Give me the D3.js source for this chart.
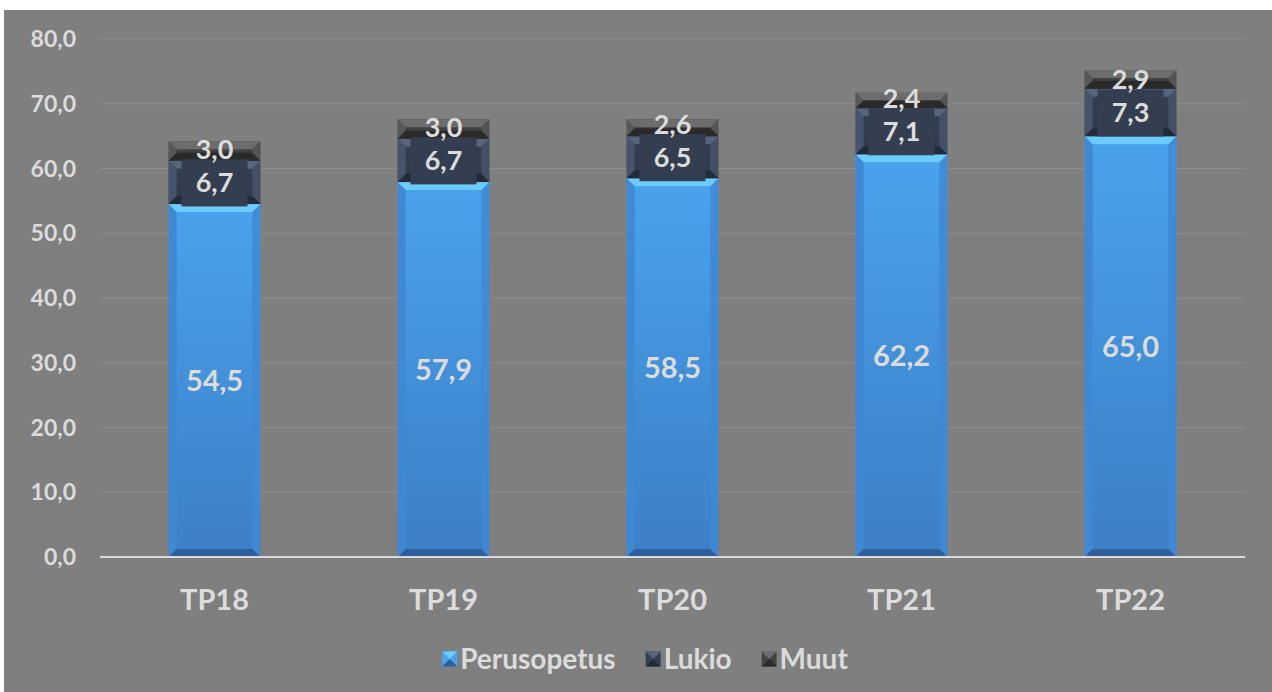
<!DOCTYPE html>
<html>
<head>
<meta charset="utf-8">
<script src="https://cdn.jsdelivr.net/npm/d3@7"></script>
<style>
  body { margin: 0; background: #fff; }
  svg { display: block; font-family: Lato, "Open Sans", sans-serif; }
</style>
</head>
<body>
<svg id="chart" width="1272" height="692"></svg>
<script>
const categories = ["TP18", "TP19", "TP20", "TP21", "TP22"];
const perusopetus = [54.5, 57.9, 58.5, 62.2, 65.0];
const lukio = [6.7, 6.7, 6.5, 7.1, 7.3];
const muut = [3.0, 3.0, 2.6, 2.4, 2.9];
const yTicks = [0, 10, 20, 30, 40, 50, 60, 70, 80];
const seriesNames = ["Perusopetus", "Lukio", "Muut"];

const width = 1272, height = 692;
const margin = { top: 39, right: 27, bottom: 135, left: 100 };
const fmt = v => v.toFixed(1).replace(".", ",");

// colours for face / top bevel / bottom bevel / side bevel
const styles = [
  { face: ["#4aa2ec", "#3c7fc6"], top: "#6ccbff", bottom: "#2c5f9c", side: "#3f88d4" },
  { face: ["#333f52", "#2f3a4c"], top: "#56657e", bottom: "#222b38", side: "#46546b" },
  { face: ["#444444", "#3c3c3c"], top: "#6c6c6c", bottom: "#2a2a2a", side: "#575757" }
];
const textColor = "#dcdcdc";

const svg = d3.select("#chart");

// outer frame: white border with grey chart area
svg.append("rect").attr("width", width).attr("height", height).attr("fill", "#fff");
svg.append("rect").attr("x", 4).attr("y", 10).attr("width", width - 4).attr("height", height - 10).attr("fill", "#7f7f7f");

const x = d3.scaleBand().domain(categories)
  .range([margin.left, width - margin.right])
  .paddingInner(0.6).paddingOuter(0.3);
const y = d3.scaleLinear().domain([0, 80]).range([height - margin.bottom, margin.top]);

const defs = svg.append("defs");
styles.forEach((s, i) => {
  const g = defs.append("linearGradient").attr("id", "face" + i)
    .attr("x1", 0).attr("y1", 0).attr("x2", 0).attr("y2", 1);
  g.append("stop").attr("offset", "0%").attr("stop-color", s.face[0]);
  g.append("stop").attr("offset", "100%").attr("stop-color", s.face[1]);
});

// gridlines
svg.append("g").selectAll("line").data(yTicks.slice(1)).enter().append("line")
  .attr("x1", margin.left).attr("x2", width - margin.right)
  .attr("y1", d => y(d)).attr("y2", d => y(d))
  .attr("stroke", "#8e8e8e").attr("stroke-width", 1);

// y tick labels
svg.append("g").selectAll("text").data(yTicks).enter().append("text")
  .attr("x", 76).attr("y", d => y(d)).attr("dy", "0.35em")
  .attr("text-anchor", "end").attr("fill", textColor)
  .attr("font-size", 23).attr("font-weight", "bold")
  .text(d => fmt(d));

// stacked data
const rows = categories.map((c, i) => ({ cat: c, v: [perusopetus[i], lukio[i], muut[i]] }));
const bars = svg.append("g");
const labels = svg.append("g");
const bev = 8;

rows.forEach(r => {
  let base = 0;
  let prevLabelY = null;
  const x0 = x(r.cat), x1 = x0 + x.bandwidth();
  r.v.forEach((val, si) => {
    const s = styles[si];
    const yb = y(base), yt = y(base + val);
    const g = bars.append("g");
    g.append("rect").attr("x", x0).attr("y", yt).attr("width", x1 - x0).attr("height", yb - yt)
      .attr("fill", "url(#face" + si + ")");
    const b = Math.min(bev, (yb - yt) / 2);
    // left / right bevels
    g.append("polygon").attr("points", [[x0, yt], [x0 + b, yt + b], [x0 + b, yb - b], [x0, yb]].join(" "))
      .attr("fill", s.side);
    g.append("polygon").attr("points", [[x1, yt], [x1 - b, yt + b], [x1 - b, yb - b], [x1, yb]].join(" "))
      .attr("fill", s.side).attr("opacity", 0.85);
    // top bevel
    g.append("polygon").attr("points", [[x0, yt], [x1, yt], [x1 - b, yt + b], [x0 + b, yt + b]].join(" "))
      .attr("fill", s.top);
    // bottom bevel
    g.append("polygon").attr("points", [[x0, yb], [x1, yb], [x1 - b, yb - b], [x0 + b, yb - b]].join(" "))
      .attr("fill", s.bottom);

    const cx = (x0 + x1) / 2;
    let cy = (yb + yt) / 2;
    // push small stacked labels apart so they don't collide
    if (si === 2 && prevLabelY !== null) cy = Math.min(cy, prevLabelY - 33);
    if (si === 1) {
      labels.append("rect").attr("x", cx - 33).attr("y", cy - 23).attr("width", 66).attr("height", 47)
        .attr("fill", "#333f50");
    }
    labels.append("text").attr("x", cx).attr("y", cy).attr("dy", "0.36em")
      .attr("text-anchor", "middle").attr("fill", textColor)
      .attr("font-size", si === 0 ? 29 : 27).attr("font-weight", "bold")
      .text(fmt(val));
    prevLabelY = cy;
    base += val;
  });
});

// baseline
svg.append("line").attr("x1", margin.left).attr("x2", width - margin.right)
  .attr("y1", y(0)).attr("y2", y(0)).attr("stroke", "#d9d9d9").attr("stroke-width", 2);

// x labels
svg.append("g").selectAll("text").data(categories).enter().append("text")
  .attr("x", d => x(d) + x.bandwidth() / 2).attr("y", 600).attr("dy", "0.35em")
  .attr("text-anchor", "middle").attr("fill", textColor)
  .attr("font-size", 29).attr("font-weight", "bold")
  .text(d => d);

// legend, laid out from measured text widths and centred
const legend = svg.append("g");
const items = seriesNames.map((n, i) => {
  const g = legend.append("g");
  const s = styles[i];
  const sz = 15;
  g.append("rect").attr("x", 0).attr("y", -sz / 2).attr("width", sz).attr("height", sz).attr("fill", s.face[0]);
  g.append("polygon").attr("points", [[0, -sz / 2], [sz, -sz / 2], [sz / 2, 0]].join(" ")).attr("fill", s.top);
  g.append("polygon").attr("points", [[0, sz / 2], [sz, sz / 2], [sz / 2, 0]].join(" ")).attr("fill", s.bottom);
  const t = g.append("text").attr("x", sz + 3).attr("y", 0).attr("dy", "0.36em")
    .attr("fill", textColor).attr("font-size", 28).attr("font-weight", "bold")
    .text(n);
  return { g, w: sz + 3 + t.node().getComputedTextLength() };
});
const gap = 30;
const total = d3.sum(items, d => d.w) + gap * (items.length - 1);
let lx = 645 - total / 2;
items.forEach(it => {
  it.g.attr("transform", `translate(${lx},659)`);
  lx += it.w + gap;
});
</script>
</body>
</html>
